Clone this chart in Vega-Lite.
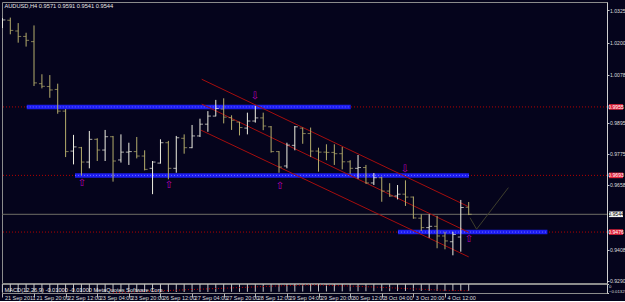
{
  "$schema": "https://vega.github.io/schema/vega-lite/v6.json",
  "background": "#05041c",
  "padding": {"left": 1, "top": 1, "right": 0, "bottom": 0},
  "spacing": 1,
  "bounds": "flush",
  "datasets": {
    "bars": [
      {"k":0,"o":1.0276,"h":1.0295,"l":1.0257,"c":1.0288},
      {"k":1,"o":1.0287,"h":1.0297,"l":1.0233,"c":1.0248},
      {"k":2,"o":1.0246,"h":1.0276,"l":1.0201,"c":1.0225},
      {"k":3,"o":1.0225,"h":1.0239,"l":1.0186,"c":1.0210},
      {"k":4,"o":1.0205,"h":1.0267,"l":1.0035,"c":1.0047},
      {"k":5,"o":1.0044,"h":1.0080,"l":1.0026,"c":1.0034},
      {"k":6,"o":1.0033,"h":1.0077,"l":0.9990,"c":1.0020},
      {"k":7,"o":1.0022,"h":1.0044,"l":0.9929,"c":0.9939},
      {"k":8,"o":0.9939,"h":0.9947,"l":0.9763,"c":0.9784},
      {"k":9,"o":0.9786,"h":0.9848,"l":0.9735,"c":0.9802},
      {"k":10,"o":0.9799,"h":0.9802,"l":0.9693,"c":0.9744},
      {"k":11,"o":0.9744,"h":0.9863,"l":0.9720,"c":0.9831},
      {"k":12,"o":0.9831,"h":0.9835,"l":0.9748,"c":0.9790},
      {"k":13,"o":0.9790,"h":0.9867,"l":0.9748,"c":0.9841},
      {"k":14,"o":0.9841,"h":0.9844,"l":0.9669,"c":0.9748},
      {"k":15,"o":0.9752,"h":0.9850,"l":0.9742,"c":0.9782},
      {"k":16,"o":0.9782,"h":0.9818,"l":0.9733,"c":0.9784},
      {"k":17,"o":0.9784,"h":0.9840,"l":0.9758,"c":0.9767},
      {"k":18,"o":0.9767,"h":0.9789,"l":0.9712,"c":0.9716},
      {"k":19,"o":0.9720,"h":0.9748,"l":0.9621,"c":0.9744},
      {"k":20,"o":0.9740,"h":0.9831,"l":0.9738,"c":0.9818},
      {"k":21,"o":0.9818,"h":0.9825,"l":0.9678,"c":0.9720},
      {"k":22,"o":0.9720,"h":0.9844,"l":0.9703,"c":0.9837},
      {"k":23,"o":0.9835,"h":0.9850,"l":0.9776,"c":0.9799},
      {"k":24,"o":0.9799,"h":0.9886,"l":0.9797,"c":0.9844},
      {"k":25,"o":0.9844,"h":0.9910,"l":0.9840,"c":0.9889},
      {"k":26,"o":0.9889,"h":0.9939,"l":0.9860,"c":0.9920},
      {"k":27,"o":0.9920,"h":0.9982,"l":0.9919,"c":0.9949},
      {"k":28,"o":0.9947,"h":0.9988,"l":0.9892,"c":0.9916},
      {"k":29,"o":0.9914,"h":0.9923,"l":0.9867,"c":0.9904},
      {"k":30,"o":0.9897,"h":0.9898,"l":0.9846,"c":0.9876},
      {"k":31,"o":0.9874,"h":0.9933,"l":0.9850,"c":0.9901},
      {"k":32,"o":0.9901,"h":0.9959,"l":0.9895,"c":0.9913},
      {"k":33,"o":0.9913,"h":0.9933,"l":0.9866,"c":0.9882},
      {"k":34,"o":0.9879,"h":0.9882,"l":0.9780,"c":0.9784},
      {"k":35,"o":0.9784,"h":0.9786,"l":0.9703,"c":0.9725},
      {"k":36,"o":0.9729,"h":0.9818,"l":0.9720,"c":0.9809},
      {"k":37,"o":0.9808,"h":0.9882,"l":0.9789,"c":0.9879},
      {"k":38,"o":0.9874,"h":0.9876,"l":0.9814,"c":0.9853},
      {"k":39,"o":0.9853,"h":0.9876,"l":0.9763,"c":0.9786},
      {"k":40,"o":0.9786,"h":0.9799,"l":0.9707,"c":0.9782},
      {"k":41,"o":0.9782,"h":0.9812,"l":0.9751,"c":0.9781},
      {"k":42,"o":0.9781,"h":0.9812,"l":0.9733,"c":0.9776},
      {"k":43,"o":0.9776,"h":0.9802,"l":0.9716,"c":0.9745},
      {"k":44,"o":0.9745,"h":0.9751,"l":0.9699,"c":0.9720},
      {"k":45,"o":0.9720,"h":0.9771,"l":0.9680,"c":0.9723},
      {"k":46,"o":0.9723,"h":0.9733,"l":0.9661,"c":0.9664},
      {"k":47,"o":0.9664,"h":0.9702,"l":0.9656,"c":0.9684},
      {"k":48,"o":0.9684,"h":0.9688,"l":0.9592,"c":0.9633},
      {"k":49,"o":0.9633,"h":0.9663,"l":0.9611,"c":0.9614},
      {"k":50,"o":0.9614,"h":0.9656,"l":0.9601,"c":0.9621},
      {"k":51,"o":0.9621,"h":0.9674,"l":0.9576,"c":0.9610},
      {"k":52,"o":0.9610,"h":0.9612,"l":0.9527,"c":0.9530},
      {"k":53,"o":0.9529,"h":0.9544,"l":0.9480,"c":0.9493},
      {"k":54,"o":0.9493,"h":0.9544,"l":0.9454,"c":0.9498},
      {"k":55,"o":0.9498,"h":0.9538,"l":0.9414,"c":0.9461},
      {"k":56,"o":0.9461,"h":0.9477,"l":0.9410,"c":0.9442},
      {"k":57,"o":0.9439,"h":0.9477,"l":0.9387,"c":0.9467},
      {"k":58,"o":0.9457,"h":0.9599,"l":0.9401,"c":0.9570},
      {"k":59,"o":0.9571,"h":0.9591,"l":0.9541,"c":0.9544}
    ],
    "hlines": [
      {"p":0.9955,"kind":"level"},
      {"p":0.9693,"kind":"level"},
      {"p":0.9476,"kind":"level"},
      {"p":0.9544,"kind":"bid"}
    ],
    "bands": [
      {"k1":3.08,"k2":44.07,"p":0.9955},
      {"k1":9.19,"k2":59.03,"p":0.9693},
      {"k1":50.05,"k2":68.96,"p":0.9476}
    ],
    "channel": [
      {"k1":25.22,"p1":1.0061,"k2":59.0,"p2":0.9573},
      {"k1":25.22,"p1":0.9966,"k2":59.0,"p2":0.9475},
      {"k1":25.13,"p1":0.9866,"k2":59.0,"p2":0.9381}
    ],
    "arrows": [
      {"k":10.07,"p":0.9665,"g":"⇧"},
      {"k":21.08,"p":0.9656,"g":"⇧"},
      {"k":31.96,"p":0.9997,"g":"⇩"},
      {"k":35.12,"p":0.9652,"g":"⇧"},
      {"k":50.94,"p":0.9719,"g":"⇩"},
      {"k":59.04,"p":0.9448,"g":"⇧"}
    ],
    "path": [
      {"k":59.16,"p":0.9531},
      {"k":60.0,"p":0.9487},
      {"k":64.02,"p":0.9646}
    ],
    "ind": [
      {"k":0,"v":-0.0120},{"k":1,"v":-0.0120},{"k":2,"v":-0.0121},{"k":3,"v":-0.0121},{"k":4,"v":-0.0122},
      {"k":5,"v":-0.0122},{"k":6,"v":-0.0122},{"k":7,"v":-0.0123},{"k":8,"v":-0.0123},{"k":9,"v":-0.0122},
      {"k":10,"v":-0.0122},{"k":11,"v":-0.0121},{"k":12,"v":-0.0121},{"k":13,"v":-0.0120},{"k":14,"v":-0.0120},
      {"k":15,"v":-0.0120},{"k":16,"v":-0.0119},{"k":17,"v":-0.0119},{"k":18,"v":-0.0119},{"k":19,"v":-0.0119},
      {"k":20,"v":-0.0118},{"k":21,"v":-0.0118},{"k":22,"v":-0.0118},{"k":23,"v":-0.0118},{"k":24,"v":-0.0117},
      {"k":25,"v":-0.0117},{"k":26,"v":-0.0117},{"k":27,"v":-0.0116},{"k":28,"v":-0.0116},{"k":29,"v":-0.0116},
      {"k":30,"v":-0.0116},{"k":31,"v":-0.0115},{"k":32,"v":-0.0115},{"k":33,"v":-0.0115},{"k":34,"v":-0.0114},
      {"k":35,"v":-0.0114},{"k":36,"v":-0.0113},{"k":37,"v":-0.0113},{"k":38,"v":-0.0112},{"k":39,"v":-0.0112},
      {"k":40,"v":-0.0111},{"k":41,"v":-0.0110},{"k":42,"v":-0.0110},{"k":43,"v":-0.0109},{"k":44,"v":-0.0108},
      {"k":45,"v":-0.0108},{"k":46,"v":-0.0107},{"k":47,"v":-0.0106},{"k":48,"v":-0.0106},{"k":49,"v":-0.0105},
      {"k":50,"v":-0.0104},{"k":51,"v":-0.0104},{"k":52,"v":-0.0103},{"k":53,"v":-0.0103},{"k":54,"v":-0.0102},
      {"k":55,"v":-0.0102},{"k":56,"v":-0.0101},{"k":57,"v":-0.0101},{"k":58,"v":-0.0100},{"k":59,"v":-0.0100}
    ],
    "sig": [
      {"k":14,"s":-0.0128},{"k":18,"s":-0.0110},{"k":22,"s":-0.0091},{"k":26,"s":-0.0072},
      {"k":30,"s":-0.0053},{"k":34,"s":-0.0032},{"k":38,"s":-0.0016},{"k":40,"s":-0.0015},
      {"k":44,"s":-0.0030},{"k":48,"s":-0.0050},{"k":52,"s":-0.0072},{"k":56,"s":-0.0093},{"k":59,"s":-0.0100}
    ]
  },
  "vconcat": [
    {
      "width": 605,
      "height": 281,
      "layer": [
        {
          "data": {"name": "hlines"},
          "transform": [{"filter": "datum.kind === 'level'"}],
          "mark": {"type": "rule", "color": "#b30000", "strokeWidth": 1, "strokeDash": [1, 2]},
          "encoding": {
            "y": {"field": "p", "type": "quantitative", "scale": {"domain": [0.9281, 1.03567], "nice": false, "zero": false},
              "axis": {"orient": "right", "title": null, "grid": false,
                "values": [1.0325, 1.0268, 1.0200, 1.0140, 1.0078, 1.0018, 0.9895, 0.9835, 0.9775, 0.9718, 0.9658, 0.9595, 0.9408, 0.9345, 0.9290],
                "format": ".4f", "labelFont": "Liberation Sans Narrow, Liberation Sans", "labelFontSize": 5.1, "labelColor": "#dcdcdc",
                "labelPadding": 0.5, "tickSize": 2, "tickColor": "#c8c8c8", "domainColor": "#d0d0d0", "labelOverlap": false, "labelFlush": false, "labelBound": false}}
          }
        },
        {
          "data": {"name": "hlines"},
          "transform": [{"filter": "datum.kind === 'bid'"}],
          "mark": {"type": "rule", "color": "#6e6e66", "strokeWidth": 1},
          "encoding": {"y": {"field": "p", "type": "quantitative"}}
        },
        {
          "data": {"name": "bands"},
          "mark": {"type": "rule", "color": "#1d1df0", "strokeWidth": 4.5},
          "encoding": {
            "x": {"field": "k1", "type": "quantitative", "scale": {"domain": [-0.05, 76.5], "nice": false, "zero": false}, "axis": null},
            "x2": {"field": "k2"},
            "y": {"field": "p", "type": "quantitative"}
          }
        },
        {
          "data": {"name": "bands"},
          "mark": {"type": "rule", "color": "#7272ff", "strokeWidth": 1, "strokeDash": [1, 2]},
          "encoding": {
            "x": {"field": "k1", "type": "quantitative"},
            "x2": {"field": "k2"},
            "y": {"field": "p", "type": "quantitative"}
          }
        },
        {
          "data": {"name": "channel"},
          "mark": {"type": "rule", "color": "#a50e0e", "strokeWidth": 1},
          "encoding": {
            "x": {"field": "k1", "type": "quantitative"},
            "x2": {"field": "k2"},
            "y": {"field": "p1", "type": "quantitative"},
            "y2": {"field": "p2"}
          }
        },
        {
          "data": {"name": "bars"},
          "mark": {"type": "rule", "strokeWidth": 1, "clip": true},
          "encoding": {
            "x": {"field": "k", "type": "quantitative"},
            "y": {"field": "l", "type": "quantitative"},
            "y2": {"field": "h"},
            "color": {"condition": {"test": "datum.c > datum.o", "value": "#f0f0e2"}, "value": "#b5ad6c"}
          }
        },
        {
          "data": {"name": "bars"},
          "mark": {"type": "tick", "orient": "horizontal", "size": 3, "thickness": 1, "xOffset": -1.5, "clip": true},
          "encoding": {
            "x": {"field": "k", "type": "quantitative"},
            "y": {"field": "o", "type": "quantitative"},
            "color": {"condition": {"test": "datum.c > datum.o", "value": "#f0f0e2"}, "value": "#b5ad6c"}
          }
        },
        {
          "data": {"name": "bars"},
          "mark": {"type": "tick", "orient": "horizontal", "size": 3, "thickness": 1, "xOffset": 1.5, "clip": true},
          "encoding": {
            "x": {"field": "k", "type": "quantitative"},
            "y": {"field": "c", "type": "quantitative"},
            "color": {"condition": {"test": "datum.c > datum.o", "value": "#f0f0e2"}, "value": "#b5ad6c"}
          }
        },
        {
          "data": {"name": "path"},
          "mark": {"type": "line", "color": "#3e3e2c", "strokeWidth": 1},
          "encoding": {
            "x": {"field": "k", "type": "quantitative"},
            "y": {"field": "p", "type": "quantitative"}
          }
        },
        {
          "data": {"name": "arrows"},
          "mark": {"type": "text", "color": "#b800b8", "fontSize": 10, "font": "DejaVu Sans", "align": "center", "baseline": "middle"},
          "encoding": {
            "x": {"field": "k", "type": "quantitative"},
            "y": {"field": "p", "type": "quantitative"},
            "text": {"field": "g"}
          }
        },
        {
          "data": {"name": "hlines"},
          "mark": {"type": "point", "shape": "M-1,-0.4L1,-0.4L1,0.4L-1,0.4Z", "size": 196, "filled": true, "opacity": 1},
          "encoding": {
            "x": {"datum": 77.64, "type": "quantitative"},
            "y": {"field": "p", "type": "quantitative"},
            "color": {"condition": {"test": "datum.kind === 'bid'", "value": "#f2f2f2"}, "value": "#e2233a"}
          }
        },
        {
          "data": {"name": "hlines"},
          "mark": {"type": "text", "fontSize": 5.1, "font": "Liberation Sans Narrow, Liberation Sans", "align": "center", "baseline": "middle"},
          "encoding": {
            "x": {"datum": 77.64, "type": "quantitative"},
            "y": {"field": "p", "type": "quantitative"},
            "text": {"field": "p", "type": "quantitative", "format": ".4f"},
            "color": {"condition": {"test": "datum.kind === 'bid'", "value": "#000000"}, "value": "#ffffff"}
          }
        },
        {
          "data": {"values": [{"t": "AUDUSD,H4  0.9571 0.9591 0.9541 0.9544"}]},
          "mark": {"type": "text", "color": "#e6e6e6", "fontSize": 5.7, "font": "Liberation Sans Narrow, Liberation Sans", "align": "left", "baseline": "top", "dx": 2, "dy": 1.5},
          "encoding": {
            "x": {"datum": 0, "type": "quantitative"},
            "y": {"datum": 1.0357, "type": "quantitative"},
            "text": {"field": "t"}
          }
        }
      ]
    },
    {
      "width": 605,
      "height": 9,
      "layer": [
        {
          "data": {"name": "ind"},
          "mark": {"type": "rule", "color": "#c4c4c4", "strokeWidth": 1},
          "encoding": {
            "x": {"field": "k", "type": "quantitative", "scale": {"domain": [-0.05, 76.5], "nice": false, "zero": false},
              "axis": {"title": null, "grid": false, "domain": false,
                "values": [0, 4, 8, 12, 16, 20, 24, 28, 32, 36, 40, 44, 48, 52, 56],
                "labelExpr": "['21 Sep 2011','21 Sep 20:00','22 Sep 12:00','23 Sep 04:00','23 Sep 20:00','26 Sep 12:00','27 Sep 04:00','27 Sep 20:00','28 Sep 12:00','29 Sep 04:00','29 Sep 20:00','30 Sep 12:00','3 Oct 04:00','3 Oct 20:00','4 Oct 12:00'][round(datum.value / 4)]",
                "labelAlign": "left", "labelOffset": 2, "labelPadding": -2, "tickSize": 4, "tickColor": "#b4b4b4",
                "labelFont": "Liberation Sans Narrow, Liberation Sans", "labelFontSize": 5.5, "labelColor": "#dcdcdc",
                "labelBaseline": "top", "labelOverlap": false, "labelFlush": false, "labelBound": false}},
            "y": {"field": "v", "type": "quantitative", "scale": {"domain": [-0.01329, 0], "nice": false, "zero": false},
              "axis": {"orient": "right", "title": null, "grid": false, "values": [0, -0.01329], "format": ".5~f",
                "labelFont": "Liberation Sans Narrow, Liberation Sans", "labelFontSize": 4.3, "labelColor": "#dcdcdc",
                "labelPadding": 0, "tickSize": 1.5, "tickColor": "#c8c8c8", "domainColor": "#d0d0d0",
                "labelBaseline": {"condition": {"test": "datum.value === 0", "value": "top"}, "value": "bottom"},
                "labelOverlap": false, "labelFlush": false, "labelBound": false}},
            "y2": {"datum": 0}
          }
        },
        {
          "data": {"name": "sig"},
          "mark": {"type": "line", "color": "#c00000", "strokeWidth": 1, "strokeDash": [1, 2]},
          "encoding": {
            "x": {"field": "k", "type": "quantitative"},
            "y": {"field": "s", "type": "quantitative"}
          }
        },
        {
          "data": {"values": [{"t": "MACD(12,26,9) -0.01000 -0.01000   MetaQuotes Software Corp."}]},
          "mark": {"type": "text", "color": "#e6e6e6", "fontSize": 5.7, "font": "Liberation Sans Narrow, Liberation Sans", "align": "left", "baseline": "middle", "dx": 2},
          "encoding": {
            "x": {"datum": 0, "type": "quantitative"},
            "y": {"datum": -0.0089, "type": "quantitative"},
            "text": {"field": "t"}
          }
        }
      ]
    }
  ],
  "config": {
    "view": {"stroke": "#8c8c8c", "strokeWidth": 1},
    "axis": {"labelFont": "Liberation Sans Narrow, Liberation Sans"}
  }
}
